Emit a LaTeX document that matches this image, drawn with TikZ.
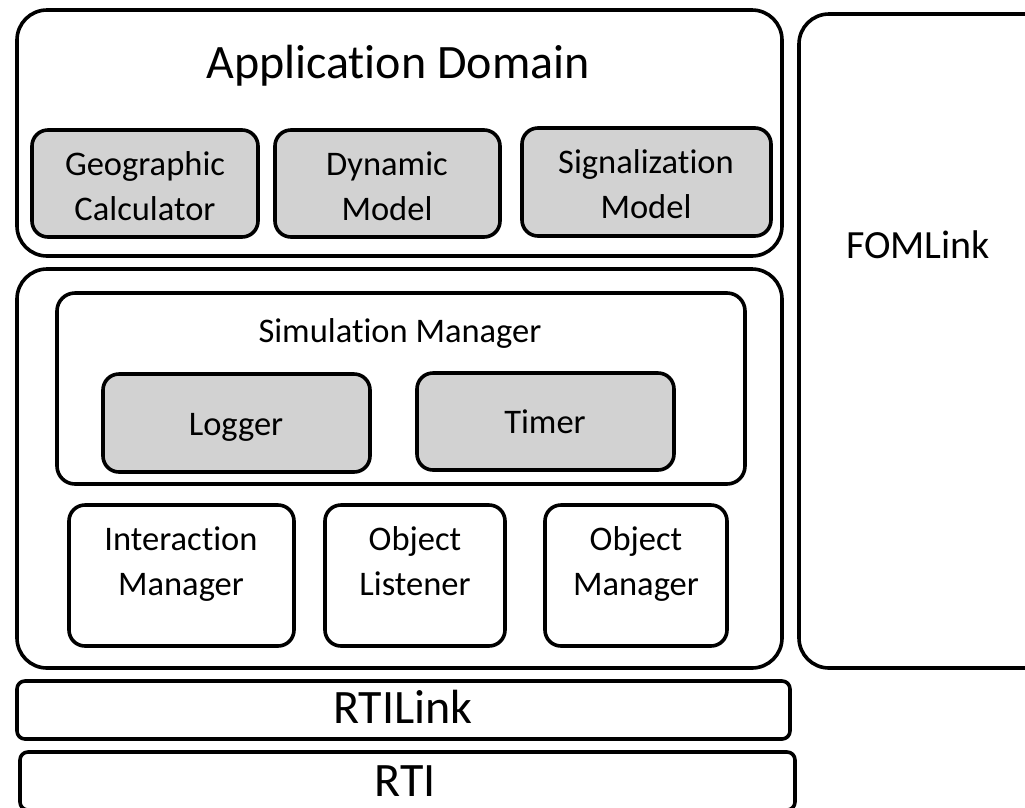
\documentclass[tikz,border=0pt]{standalone}
\usepackage{fontspec}
\setmainfont[RawFeature=-liga]{Carlito}
\definecolor{boxgray}{HTML}{D2D2D2}
\tikzset{
  frame/.style={draw=black, line width=3.6pt, rounded corners=#1, inner sep=0pt},
  frame/.default=16pt,
  shaded/.style={frame, fill=boxgray},
  big/.style={font=\fontsize{48}{52}\selectfont, inner sep=0pt, anchor=base},
  mid/.style={font=\fontsize{40}{44}\selectfont, inner sep=0pt, anchor=base},
  small/.style={font=\fontsize{34.5}{45}\selectfont, align=center, inner sep=0pt, anchor=base},
}
\newcommand{\panel}[6]{% name, style, x1, y1, x2, y2 (pixel coords, y downward)
  \node[#2, minimum width={#5pt-#3pt}, minimum height={#6pt-#4pt}]
    (#1) at ({(#3+#5)/2*1pt}, {-(#4+#6)/2*1pt}) {};}
\begin{document}
\begin{tikzpicture}[x=1pt, y=-1pt]
  \useasboundingbox (0,0) rectangle (1025,807);

  % application layer
  \panel{app}{frame=30pt}{17}{10}{782}{256}
  \node[big] (apptitle) at (398,78) {Application Domain};
  \panel{geo}{shaded}{32}{130}{258}{237}
  \panel{dyn}{shaded}{275}{130}{500}{237}
  \panel{sig}{shaded}{522}{128}{771}{236}
  % two-line labels are placed by the baseline of their last line
  \node[small] (geot) at (145,220) {Geographic\\Calculator};
  \node[small] (dynt) at (387,220) {Dynamic\\Model};
  \node[small] (sigt) at (646,218) {Signalization\\Model};

  % federate core
  \panel{core}{frame=30pt}{17}{269}{782}{668}
  \panel{sim}{frame=18pt}{57}{293}{745}{484}
  \node[small] (simt) at (400,342) {Simulation Manager};
  \panel{log}{shaded}{103}{374}{370}{472}
  \panel{tim}{shaded}{417}{373}{674}{470}
  \node[small] (logt) at (236,435) {Logger};
  \node[small] (timt) at (545,433) {Timer};
  \panel{im}{frame}{69}{505}{294}{646}
  \panel{ol}{frame}{325}{505}{505}{646}
  \panel{om}{frame}{545}{505}{727}{646}
  \node[small] (imt) at (181,595) {Interaction\\Manager};
  \node[small] (olt) at (415,595) {Object\\Listener};
  \node[small] (omt) at (636,595) {Object\\Manager};

  % side and bottom layers
  \panel{fom}{frame=30pt}{799}{14}{1060}{668}
  \node[mid] (fomt) at (918,258) {FOMLink};
  \panel{rtil}{frame=8pt}{17}{681}{790}{739}
  \node[big] (rtilt) at (403,723) {RTILink};
  \panel{rti}{frame=8pt}{20}{752}{795}{810}
  \node[big] (rtit) at (405,796) {RTI};
\end{tikzpicture}
\end{document}
